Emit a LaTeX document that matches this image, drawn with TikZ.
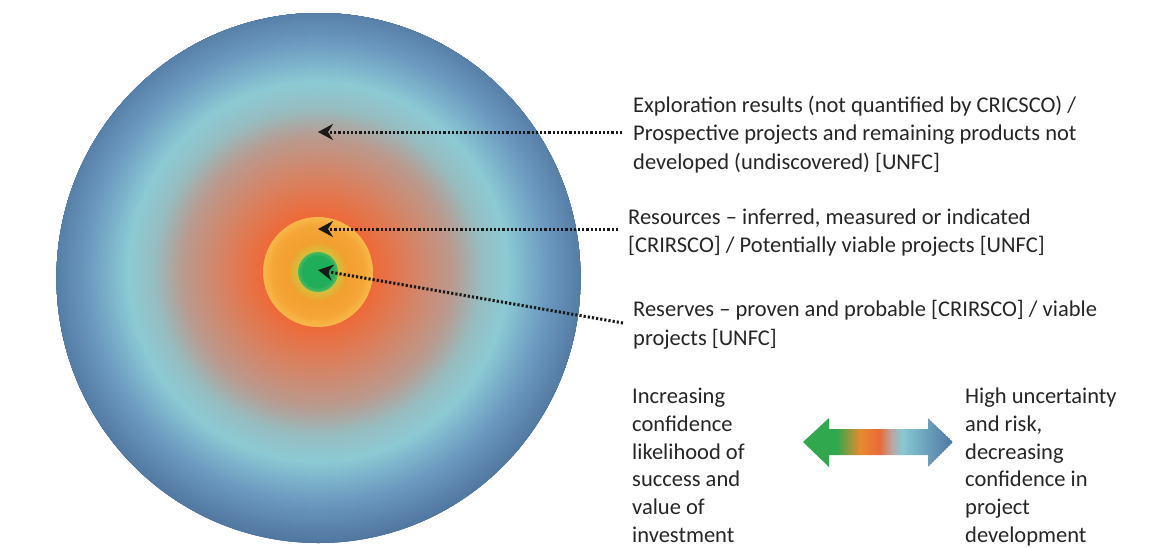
\documentclass[tikz,border=0pt]{standalone}
\usepackage{fontspec}
\setmainfont{Carlito}
\usetikzlibrary{arrows.meta}

% colours of the concentric zones, from the rim inwards
\definecolor{zEdge}{HTML}{50769F}
\definecolor{zBlue}{HTML}{6C9AC0}
\definecolor{zCyan}{HTML}{8CCAD4}
\definecolor{zCyanB}{HTML}{96BEC2}
\definecolor{zMauve}{HTML}{BA9A8E}
\definecolor{zRose}{HTML}{D88262}
\definecolor{zRed}{HTML}{EE6A38}
\definecolor{zGold}{HTML}{F8B84A}
\definecolor{zAmber}{HTML}{F4A636}
\definecolor{zOrange}{HTML}{F2A030}
\definecolor{zLime}{HTML}{D6C03A}
\definecolor{zGreenE}{HTML}{4CB860}
\definecolor{zGreen}{HTML}{1FAF5A}
% colours along the double arrow
\definecolor{aGreen}{HTML}{2FA84E}
\definecolor{aOrange}{HTML}{E88A30}
\definecolor{aRed}{HTML}{E86A38}
\definecolor{aGrey}{HTML}{BCA6A6}
\definecolor{aCyan}{HTML}{88C8D2}
\definecolor{aBlue}{HTML}{4A72A2}
\definecolor{txt}{HTML}{262626}

% ring band: outer radius, inner radius, outer colour, inner colour
\newcommand\radseg[4]{%
  \pgfmathtruncatemacro\segn{#1-#2}%
  \foreach \k in {0,...,\segn}{%
    \pgfmathtruncatemacro\segp{100*\k/\segn}%
    \pgfmathsetmacro\segr{#1-\k}%
    \fill[#4!\segp!#3] (ctr) circle[radius=\segr pt];
  }}
% vertical slices: left x, right x, left colour, right colour
\newcommand\linseg[4]{%
  \pgfmathtruncatemacro\segn{#2-#1}%
  \foreach \k in {0,...,\segn}{%
    \pgfmathtruncatemacro\segp{100*\k/\segn}%
    \pgfmathsetmacro\segx{#1+\k}%
    \fill[#4!\segp!#3] (\segx,410) rectangle ++(1.4,75);
  }}

\begin{document}
\begin{tikzpicture}[x=1pt,y=-1pt,
  labeltext/.style={anchor=base west, inner sep=0pt, align=left, text=txt,
    font=\fontsize{22.5}{28.3}\selectfont},
  columntext/.style={labeltext, font=\fontsize{22.5}{27.8}\selectfont},
  pointer/.style={draw=black!90, line width=3pt, dash pattern=on 2.2pt off 2pt,
    -{Stealth[length=15pt,width=16pt,inset=5pt]}}]

\useasboundingbox (0,0) rectangle (1159,547);
\fill[white] (0,0) rectangle (1159,547);

% concentric target
\coordinate (ctr) at (318,272);
\begin{scope}
  \clip (318.5,278) ellipse [x radius=262pt, y radius=265pt];
  \fill[zEdge] (318.5,278) ellipse [x radius=262pt, y radius=265pt];
  \radseg{272}{230}{zEdge}{zBlue}
  \radseg{230}{190}{zBlue}{zCyan}
  \radseg{190}{165}{zCyan}{zCyanB}
  \radseg{165}{135}{zCyanB}{zMauve}
  \radseg{135}{95}{zMauve}{zRose}
  \radseg{95}{56}{zRose}{zRed}
  \radseg{55}{46}{zGold}{zAmber}
  \radseg{46}{30}{zAmber}{zOrange}
  \radseg{30}{21}{zOrange}{zLime}
  \radseg{20}{16}{zGreenE}{zGreen}
  \fill[zGreen] (ctr) circle[radius=16pt];
\end{scope}

% descriptions (placed by the baseline of their last line)
\node[labeltext] (explore) at (633,169.1)
  {Exploration results (not quantified by CRICSCO) /\\Prospective projects and remaining products not\\developed (undiscovered) [UNFC]};
\node[labeltext] (resources) at (628,252.6)
  {Resources – inferred, measured or indicated\\{}[CRIRSCO] / Potentially viable projects [UNFC]};
\node[labeltext] (reserves) at (633,345)
  {Reserves – proven and probable [CRIRSCO] / viable\\projects [UNFC]};
\node[columntext] (confident) at (632,542.5)
  {Increasing\\confidence\\likelihood of\\success and\\value of\\investment};
\node[columntext] (uncertain) at (965,542.5)
  {High uncertainty\\and risk,\\decreasing\\confidence in\\project\\development};

% pointers into the zones
\coordinate (tipA) at (318,132);
\coordinate (tailA) at (622,132);
\coordinate (tipB) at (318,229);
\coordinate (tailB) at (618,229);
\coordinate (tipC) at (318,270);
\coordinate (tailC) at (623,323);
\draw[pointer] (tailA) -- (tipA);
\draw[pointer] (tailB) -- (tipB);
\draw[pointer] (tailC) -- (tipC);

% double arrow between the two statements
\begin{scope}
  \clip (803,442) -- (829,418) -- (829,429) -- (928,429) -- (928,418) -- (953,442)
    -- (928,467) -- (928,455) -- (829,455) -- (829,467) -- cycle;
  \linseg{800}{836}{aGreen}{aGreen}
  \linseg{836}{860}{aGreen}{aOrange}
  \linseg{860}{879}{aOrange}{aRed}
  \linseg{879}{892}{aRed}{aGrey}
  \linseg{892}{902}{aGrey}{aCyan}
  \linseg{902}{955}{aCyan}{aBlue}
\end{scope}
\end{tikzpicture}
\end{document}
